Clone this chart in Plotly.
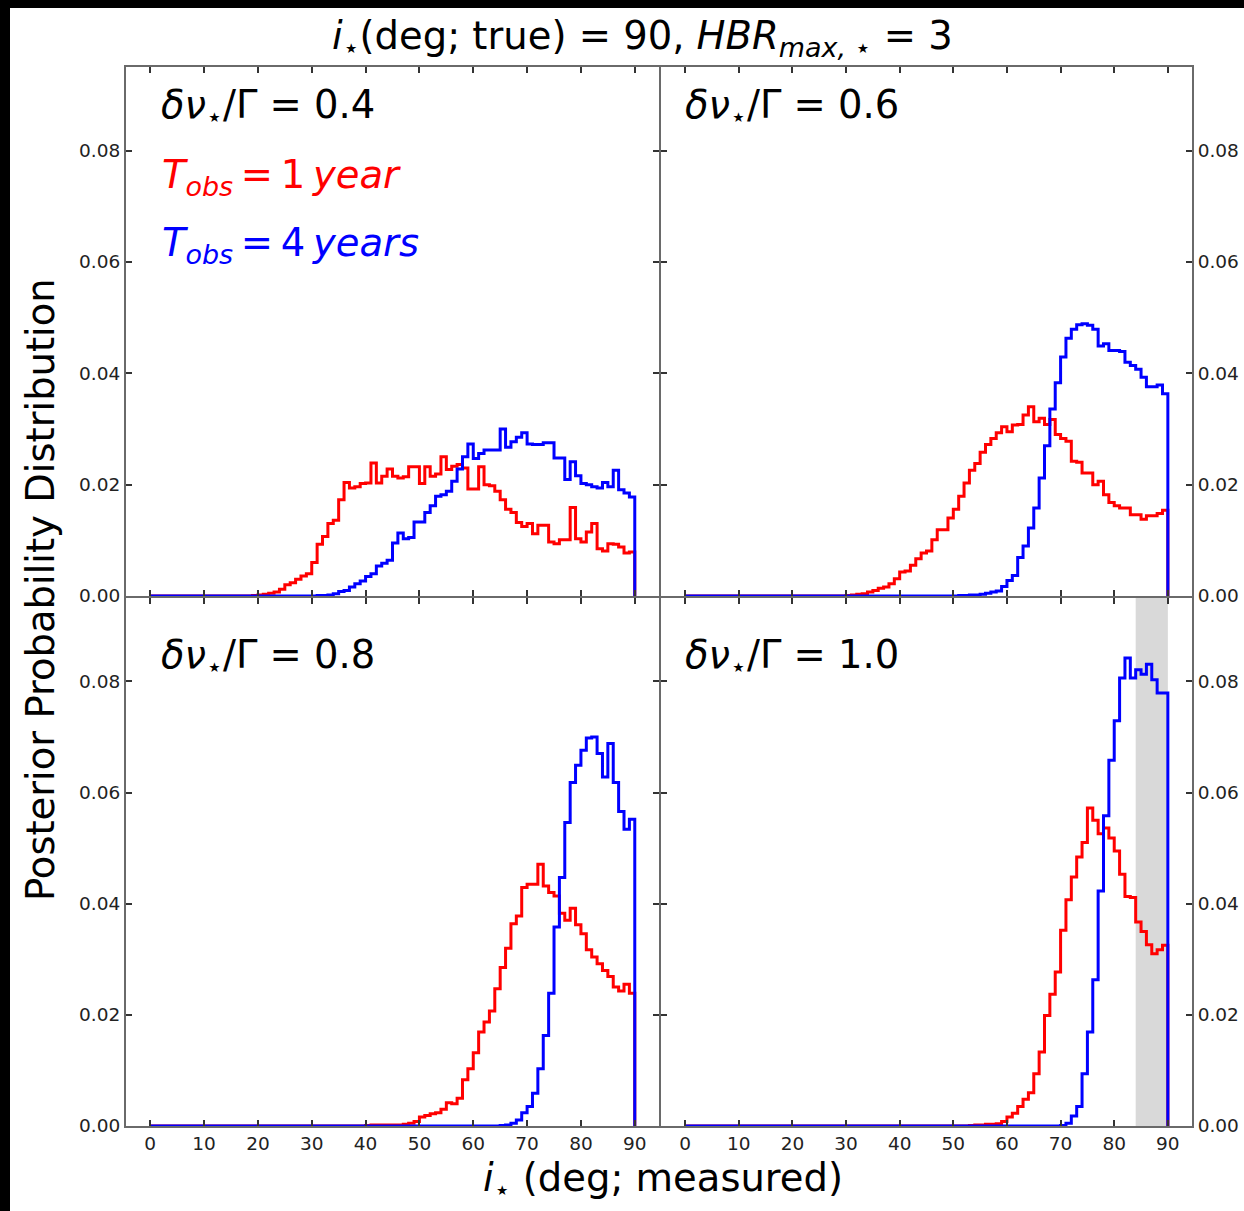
import plotly.graph_objects as go

# Inclination bins (deg), 1-degree wide, 0..90
bin_edges = list(range(0, 91))
x_ticks = [0, 10, 20, 30, 40, 50, 60, 70, 80, 90]
y_ticks = [0.0, 0.02, 0.04, 0.06, 0.08]
panel_ratios = ["0.4", "0.6", "0.8", "1.0"]

# Posterior probability per bin, dnu/Gamma = 0.4
tl_1yr = [0, 0, 0, 0, 0, 0, 0, 0, 0, 0,
          0, 0, 0, 0, 0, 0, 0, 0, 0, 0.0001,
          0.0002, 0.0003, 0.0005, 0.0007, 0.0012, 0.0020, 0.0024, 0.0030, 0.0036, 0.0040,
          0.0060, 0.0093, 0.0107, 0.0130, 0.0136, 0.0173, 0.0204, 0.0194, 0.0196, 0.0202,
          0.0203, 0.0239, 0.0203, 0.0215, 0.0228, 0.0215, 0.0212, 0.0214, 0.0232, 0.0232,
          0.0202, 0.0232, 0.0215, 0.0219, 0.0250, 0.0227, 0.0233, 0.0236, 0.0230, 0.0192,
          0.0192, 0.0232, 0.0200, 0.0198, 0.0188, 0.0173, 0.0156, 0.0150, 0.0132, 0.0125,
          0.0130, 0.0112, 0.0127, 0.0127, 0.0097, 0.0094, 0.0101, 0.0101, 0.0159, 0.0103,
          0.0097, 0.0115, 0.0130, 0.0085, 0.0081, 0.0094, 0.0093, 0.0088, 0.0077, 0.0079]
tl_4yr = [0, 0, 0, 0, 0, 0, 0, 0, 0, 0,
          0, 0, 0, 0, 0, 0, 0, 0, 0, 0,
          0, 0, 0, 0, 0, 0, 0, 0, 0, 0,
          0, 0.0001, 0.0001, 0.0002, 0.0004, 0.0008, 0.0010, 0.0016, 0.0022, 0.0027,
          0.0035, 0.0040, 0.0054, 0.0059, 0.0064, 0.0095, 0.0113, 0.0103, 0.0105, 0.0133,
          0.0133, 0.0150, 0.0162, 0.0179, 0.0182, 0.0188, 0.0206, 0.0228, 0.0250, 0.0273,
          0.0247, 0.0256, 0.0262, 0.0262, 0.0262, 0.0300, 0.0267, 0.0277, 0.0285, 0.0293,
          0.0273, 0.0272, 0.0272, 0.0275, 0.0275, 0.0248, 0.0248, 0.0209, 0.0241, 0.0216,
          0.0202, 0.0200, 0.0196, 0.0194, 0.0204, 0.0196, 0.0226, 0.0191, 0.0185, 0.0178]

# dnu/Gamma = 0.6
tr_1yr = [0, 0, 0, 0, 0, 0, 0, 0, 0, 0,
          0, 0, 0, 0, 0, 0, 0, 0, 0, 0,
          0, 0, 0, 0, 0, 0, 0, 0, 0, 0,
          0.0001, 0.0002, 0.0003, 0.0004, 0.0007, 0.0010, 0.0014, 0.0016, 0.0022, 0.0031,
          0.0043, 0.0045, 0.0055, 0.0067, 0.0077, 0.0081, 0.0101, 0.0119, 0.0119, 0.0140,
          0.0156, 0.0179, 0.0203, 0.0226, 0.0238, 0.0258, 0.0272, 0.0283, 0.0293, 0.0304,
          0.0295, 0.0307, 0.0308, 0.0325, 0.0340, 0.0313, 0.0319, 0.0308, 0.0317, 0.0290,
          0.0283, 0.0278, 0.0242, 0.0240, 0.0221, 0.0221, 0.0200, 0.0206, 0.0182, 0.0168,
          0.0162, 0.0158, 0.0158, 0.0146, 0.0146, 0.0138, 0.0144, 0.0144, 0.0148, 0.0154]
tr_4yr = [0, 0, 0, 0, 0, 0, 0, 0, 0, 0,
          0, 0, 0, 0, 0, 0, 0, 0, 0, 0,
          0, 0, 0, 0, 0, 0, 0, 0, 0, 0,
          0, 0, 0, 0, 0, 0, 0, 0, 0, 0,
          0, 0, 0, 0, 0, 0, 0, 0, 0, 0,
          0, 0.0001, 0.0001, 0.0002, 0.0002, 0.0003, 0.0005, 0.0007, 0.0009, 0.0017,
          0.0028, 0.0037, 0.0069, 0.0090, 0.0122, 0.0158, 0.0212, 0.0270, 0.0336, 0.0383,
          0.0429, 0.0463, 0.0479, 0.0487, 0.0489, 0.0486, 0.0479, 0.0449, 0.0453, 0.0441,
          0.0441, 0.0439, 0.0420, 0.0414, 0.0407, 0.0393, 0.0376, 0.0376, 0.0379, 0.0363]

# dnu/Gamma = 0.8
bl_1yr = [0, 0, 0, 0, 0, 0, 0, 0, 0, 0,
          0, 0, 0, 0, 0, 0, 0, 0, 0, 0,
          0, 0, 0, 0, 0, 0, 0, 0, 0, 0,
          0, 0, 0, 0, 0, 0, 0, 0, 0, 0,
          0.0001, 0.0002, 0.0002, 0.0002, 0.0002, 0.0002, 0.0002, 0.0003, 0.0005, 0.0008,
          0.0016, 0.0019, 0.0022, 0.0024, 0.0030, 0.0042, 0.0040, 0.0050, 0.0083, 0.0103,
          0.0132, 0.0169, 0.0187, 0.0207, 0.0247, 0.0285, 0.0320, 0.0364, 0.0378, 0.0429,
          0.0435, 0.0435, 0.0471, 0.0432, 0.0420, 0.0414, 0.0383, 0.0370, 0.0392, 0.0362,
          0.0346, 0.0317, 0.0304, 0.0292, 0.0280, 0.0269, 0.0250, 0.0243, 0.0255, 0.0239]
bl_4yr = [0, 0, 0, 0, 0, 0, 0, 0, 0, 0,
          0, 0, 0, 0, 0, 0, 0, 0, 0, 0,
          0, 0, 0, 0, 0, 0, 0, 0, 0, 0,
          0, 0, 0, 0, 0, 0, 0, 0, 0, 0,
          0, 0, 0, 0, 0, 0, 0, 0, 0, 0,
          0, 0, 0, 0, 0, 0, 0, 0, 0, 0,
          0, 0, 0, 0, 0, 0.0001, 0.0002, 0.0005, 0.0011, 0.0024,
          0.0035, 0.0059, 0.0103, 0.0163, 0.0239, 0.0358, 0.0447, 0.0546, 0.0618, 0.0649,
          0.0676, 0.0698, 0.0700, 0.0670, 0.0628, 0.0688, 0.0618, 0.0566, 0.0534, 0.0552]

# dnu/Gamma = 1.0
br_1yr = [0, 0, 0, 0, 0, 0, 0, 0, 0, 0,
          0, 0, 0, 0, 0, 0, 0, 0, 0, 0,
          0, 0, 0, 0, 0, 0, 0, 0, 0, 0,
          0, 0, 0, 0, 0, 0, 0, 0, 0, 0,
          0, 0, 0, 0, 0, 0, 0, 0, 0, 0,
          0, 0, 0, 0.0001, 0.0002, 0.0002, 0.0003, 0.0003, 0.0004, 0.0008,
          0.0016, 0.0023, 0.0035, 0.0048, 0.0060, 0.0094, 0.0133, 0.0199, 0.0237, 0.0277,
          0.0352, 0.0407, 0.0448, 0.0484, 0.0510, 0.0572, 0.0550, 0.0526, 0.0536, 0.0518,
          0.0495, 0.0453, 0.0413, 0.0411, 0.0367, 0.0350, 0.0326, 0.0310, 0.0317, 0.0325]
br_4yr = [0, 0, 0, 0, 0, 0, 0, 0, 0, 0,
          0, 0, 0, 0, 0, 0, 0, 0, 0, 0,
          0, 0, 0, 0, 0, 0, 0, 0, 0, 0,
          0, 0, 0, 0, 0, 0, 0, 0, 0, 0,
          0, 0, 0, 0, 0, 0, 0, 0, 0, 0,
          0, 0, 0, 0, 0, 0, 0, 0, 0, 0,
          0, 0, 0, 0, 0, 0, 0, 0, 0, 0,
          0.0001, 0.0005, 0.0018, 0.0035, 0.0094, 0.0169, 0.0263, 0.0423, 0.0558, 0.0658,
          0.0729, 0.0806, 0.0842, 0.0806, 0.0821, 0.0813, 0.0831, 0.0803, 0.0779, 0.0779]

# Shaded interval in the dnu/Gamma = 1.0 panel (deg)
shade_range = [84, 90]

FONT = "DejaVu Sans"
RED = "#ff0000"
BLUE = "#0000ff"

panels = [
    ("x", "y", tl_1yr, tl_4yr),
    ("x2", "y2", tr_1yr, tr_4yr),
    ("x3", "y3", bl_1yr, bl_4yr),
    ("x4", "y4", br_1yr, br_4yr),
]


def step_xy(vals):
    """Outline of a step histogram: flat across each bin, drop to zero at 90."""
    xs = bin_edges + [bin_edges[-1]]
    ys = list(vals) + [vals[-1], 0]
    return xs, ys


fig = go.Figure()
for xa, ya, one_yr, four_yr in panels:
    for vals, col in ((one_yr, RED), (four_yr, BLUE)):
        xs, ys = step_xy(vals)
        fig.add_trace(go.Scatter(
            x=xs, y=ys, xaxis=xa, yaxis=ya, mode="lines",
            line=dict(color=col, width=3, shape="hv"),
            showlegend=False, hoverinfo="skip",
        ))

# plot-area geometry (pixels)
W, H = 1244, 1211
L, R, T, B = 126, 52, 67, 85
PW, PH = W - L - R, H - T - B


def fx(px):
    return (px - L) / PW


def fy(py):
    return (H - B - py) / PH


# panels leave a 2 px seam so the shared frame lines coincide
mid_x, mid_y = 660, 597
left_dom = [0, fx(mid_x - 1)]
right_dom = [fx(mid_x + 1), 1]
top_dom = [fy(mid_y - 1), 1]
bot_dom = [0, fy(mid_y + 1)]

axis_common = dict(
    showline=True, linecolor="#6a6a6a", linewidth=2, mirror="ticks",
    ticks="inside", ticklen=6, tickwidth=1.5, tickcolor="#333333",
    showgrid=False, zeroline=False, automargin=False,
    tickfont=dict(family=FONT, size=18.5, color="#222222"),
)
x_common = dict(axis_common, range=[-4.5, 94.5], tickvals=x_ticks)
y_common = dict(axis_common, range=[0, 0.095], tickvals=y_ticks, tickformat=".2f")

fig.update_layout(
    width=W, height=H,
    margin=dict(l=L, r=R, t=T, b=B, autoexpand=False),
    paper_bgcolor="white", plot_bgcolor="white",
    font=dict(family=FONT, color="black"),
    xaxis=dict(x_common, domain=left_dom, anchor="y", showticklabels=False),
    yaxis=dict(y_common, domain=top_dom, anchor="x"),
    xaxis2=dict(x_common, domain=right_dom, anchor="y2", showticklabels=False),
    yaxis2=dict(y_common, domain=top_dom, anchor="x2", side="right"),
    xaxis3=dict(x_common, domain=left_dom, anchor="y3"),
    yaxis3=dict(y_common, domain=bot_dom, anchor="x3"),
    xaxis4=dict(x_common, domain=right_dom, anchor="y4"),
    yaxis4=dict(y_common, domain=bot_dom, anchor="x4", side="right"),
)

# grey band in the lower-right panel
fig.add_shape(type="rect", xref="x4", yref="y4 domain",
              x0=shade_range[0], x1=shade_range[1], y0=0, y1=1,
              fillcolor="#d9d9d9", line=dict(width=0), layer="below")

# dark frame along the left and top edges of the canvas
fig.add_shape(type="rect", xref="paper", yref="paper", x0=fx(0), x1=fx(10),
              y0=fy(H), y1=fy(0), fillcolor="black", line=dict(width=0), layer="above")
fig.add_shape(type="rect", xref="paper", yref="paper", x0=fx(0), x1=fx(W),
              y0=fy(8), y1=fy(0), fillcolor="black", line=dict(width=0), layer="above")

BIG = 38.5


def add_text(px, py, text, color="black", size=BIG, xanchor="left", angle=0):
    fig.add_annotation(x=fx(px), y=fy(py), xref="paper", yref="paper", text=text,
                       showarrow=False, xanchor=xanchor, yanchor="middle",
                       textangle=angle, font=dict(family=FONT, size=size, color=color))


add_text(642, 38, "<i>i</i><sub>⋆</sub>(deg; true) = 90, <i>HBR</i><sub><i>max,</i> ⋆</sub> = 3",
         xanchor="center")
add_text(663, 1180, "<i>i</i><sub>⋆</sub> (deg; measured)", xanchor="center")
add_text(40, 590, "Posterior Probability Distribution", xanchor="center", angle=-90)

label_pos = [(159, 107), (683, 107), (159, 657), (683, 657)]
for (px, py), ratio in zip(label_pos, panel_ratios):
    add_text(px, py, f"<i>δν</i><sub>⋆</sub>/Γ = {ratio}")

TS = "\u2009"  # thin space, as in typeset math
add_text(160, 177, f"<i>T</i><sub><i>obs</i></sub>{TS}={TS}1{TS}<i>year</i>", color=RED)
add_text(160, 245, f"<i>T</i><sub><i>obs</i></sub>{TS}={TS}4{TS}<i>years</i>", color=BLUE)

fig.write_html("out.html")
